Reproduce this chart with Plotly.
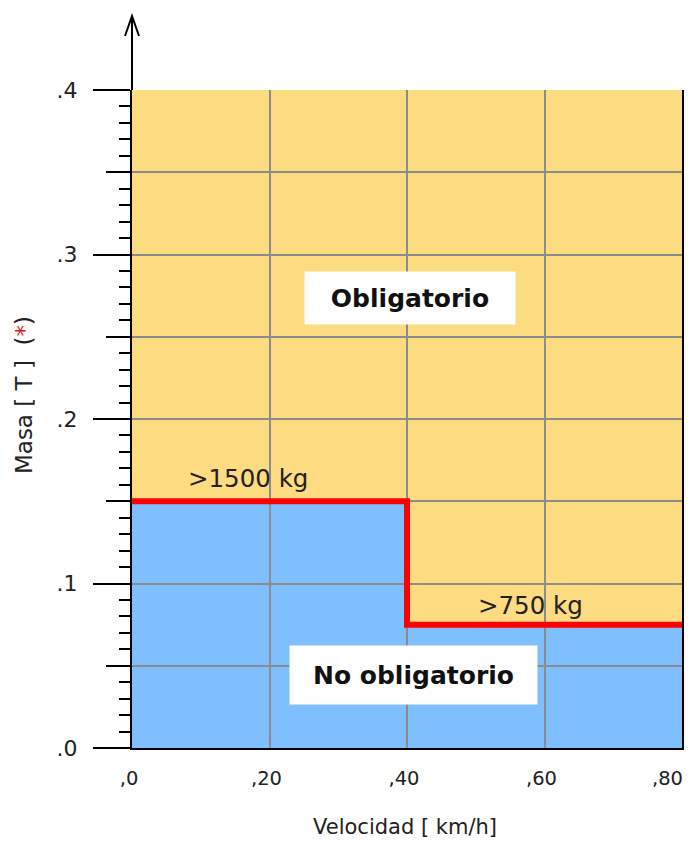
import plotly.graph_objects as go

# Step line (mass threshold vs speed)
speed = [0, 40, 80]
mass = [0.15, 0.075, 0.075]

x_ticks = [0, 20, 40, 60, 80]
x_labels = [",0", ",20", ",40", ",60", ",80"]
y_ticks = [0, 0.1, 0.2, 0.3, 0.4]
y_labels = [".0", ".1", ".2", ".3", ".4"]
y_mid_ticks = [0.05, 0.15, 0.25, 0.35]

region_labels = ["Obligatorio", "No obligatorio"]
region_pos = [(40.5, 0.2735), (41.0, 0.0445)]
limit_labels = [">1500 kg", ">750 kg"]
limit_pos = [(16.8, 0.164), (58.0, 0.0865)]

BLUE = "#80bfff"
ORANGE = "#fddb80"
GRID = "#8c8c8c"
FONT = "DejaVu Sans"

fig = go.Figure()

# blue area under the step line, drawn below the grid
path = f"M {speed[0]},0"
for i, (x, y) in enumerate(zip(speed, mass)):
    if i > 0:
        path += f" L {x},{mass[i - 1]}"
    path += f" L {x},{y}"
path += f" L {speed[-1]},0 Z"

fig.add_shape(type="path", path=path, xref="x", yref="y",
              fillcolor=BLUE, line=dict(width=0), layer="below")

fig.add_trace(go.Scatter(
    x=speed, y=mass, mode="lines", line_shape="hv",
    line=dict(color="#ff0000", width=6), hoverinfo="skip", showlegend=False
))

# medium ticks / 0.05 grid on an overlay axis
fig.add_trace(go.Scatter(x=[None], y=[None], yaxis="y2", showlegend=False))

# axis arrow on top of the y axis
fig.add_shape(type="path", xref="paper", yref="paper",
              xsizemode="pixel", ysizemode="pixel", xanchor=0, yanchor=1,
              path="M 0,0 L 0,74 M -7,54 L 0,74 L 7,54",
              line=dict(color="black", width=2))

for text, (x, y) in zip(region_labels, region_pos):
    w = 206 if text == "Obligatorio" else 243
    h = 48 if text == "Obligatorio" else 54
    fig.add_annotation(x=x, y=y, text=f"<b>{text}</b>", showarrow=False,
                       bgcolor="white", width=w, height=h, borderpad=2,
                       font=dict(family=FONT, size=25, color="#111"))

for text, (x, y) in zip(limit_labels, limit_pos):
    fig.add_annotation(x=x, y=y, text=text, showarrow=False,
                       font=dict(family=FONT, size=24.5, color="#222"))

# last x label sits at the right edge; right-align it so it stays in view
fig.add_annotation(x=x_ticks[-1], xref="x", y=-0.0456, yref="paper",
                   xanchor="right", yanchor="middle", xshift=3,
                   text=x_labels[-1], showarrow=False,
                   font=dict(family=FONT, size=19.5, color="#222"))

fig.add_annotation(xref="paper", yref="paper", x=-0.195, y=0.536,
                   xanchor="center", yanchor="middle",
                   text="Masa [ T ]  (<span style='color:#e02020'>*</span>)",
                   textangle=-90, showarrow=False,
                   font=dict(family=FONT, size=23, color="#222"))
fig.add_annotation(xref="paper", yref="paper", x=0.497, y=-0.1195,
                   xanchor="center", yanchor="middle",
                   text="Velocidad [ km/h]", showarrow=False,
                   font=dict(family=FONT, size=21, color="#222"))

# the page body adds an 8px offset, so size and margins compensate
fig.update_layout(
    width=686, height=832,
    margin=dict(l=124, r=12, t=82, b=92, autoexpand=False),
    paper_bgcolor="white",
    plot_bgcolor=ORANGE,
    font=dict(family=FONT, size=21, color="#222"),
    xaxis=dict(
        range=[0, 80], tickvals=x_ticks[:-1], ticktext=x_labels[:-1],
        showgrid=True, gridcolor=GRID, gridwidth=2, zeroline=False,
        showline=True, linecolor="black", linewidth=2,
        ticks="outside", ticklen=12, tickcolor="rgba(0,0,0,0)",
        ticklabelshift=-3, tickfont=dict(size=19.5),
        automargin=False, ticklabeloverflow="allow",
    ),
    yaxis=dict(
        range=[0, 0.4], tickvals=y_ticks, ticktext=y_labels,
        showgrid=True, gridcolor=GRID, gridwidth=2, zeroline=False,
        showline=True, mirror=True, linecolor="black", linewidth=2,
        ticks="outside", ticklen=37, tickwidth=2, tickcolor="black",
        ticklabelstandoff=11, tickfont=dict(size=22),
        automargin=False, ticklabeloverflow="allow",
        minor=dict(tickmode="linear", tick0=0, dtick=0.01, ticks="outside",
                   ticklen=11, tickwidth=2, tickcolor="black", showgrid=False),
    ),
    yaxis2=dict(
        overlaying="y", anchor="x", side="left", range=[0, 0.4],
        tickvals=y_mid_ticks, showticklabels=False, automargin=False,
        showgrid=True, gridcolor=GRID, gridwidth=2, zeroline=False,
        ticks="outside", ticklen=25, tickwidth=2, tickcolor="black",
    ),
)

fig.write_html("out.html")
